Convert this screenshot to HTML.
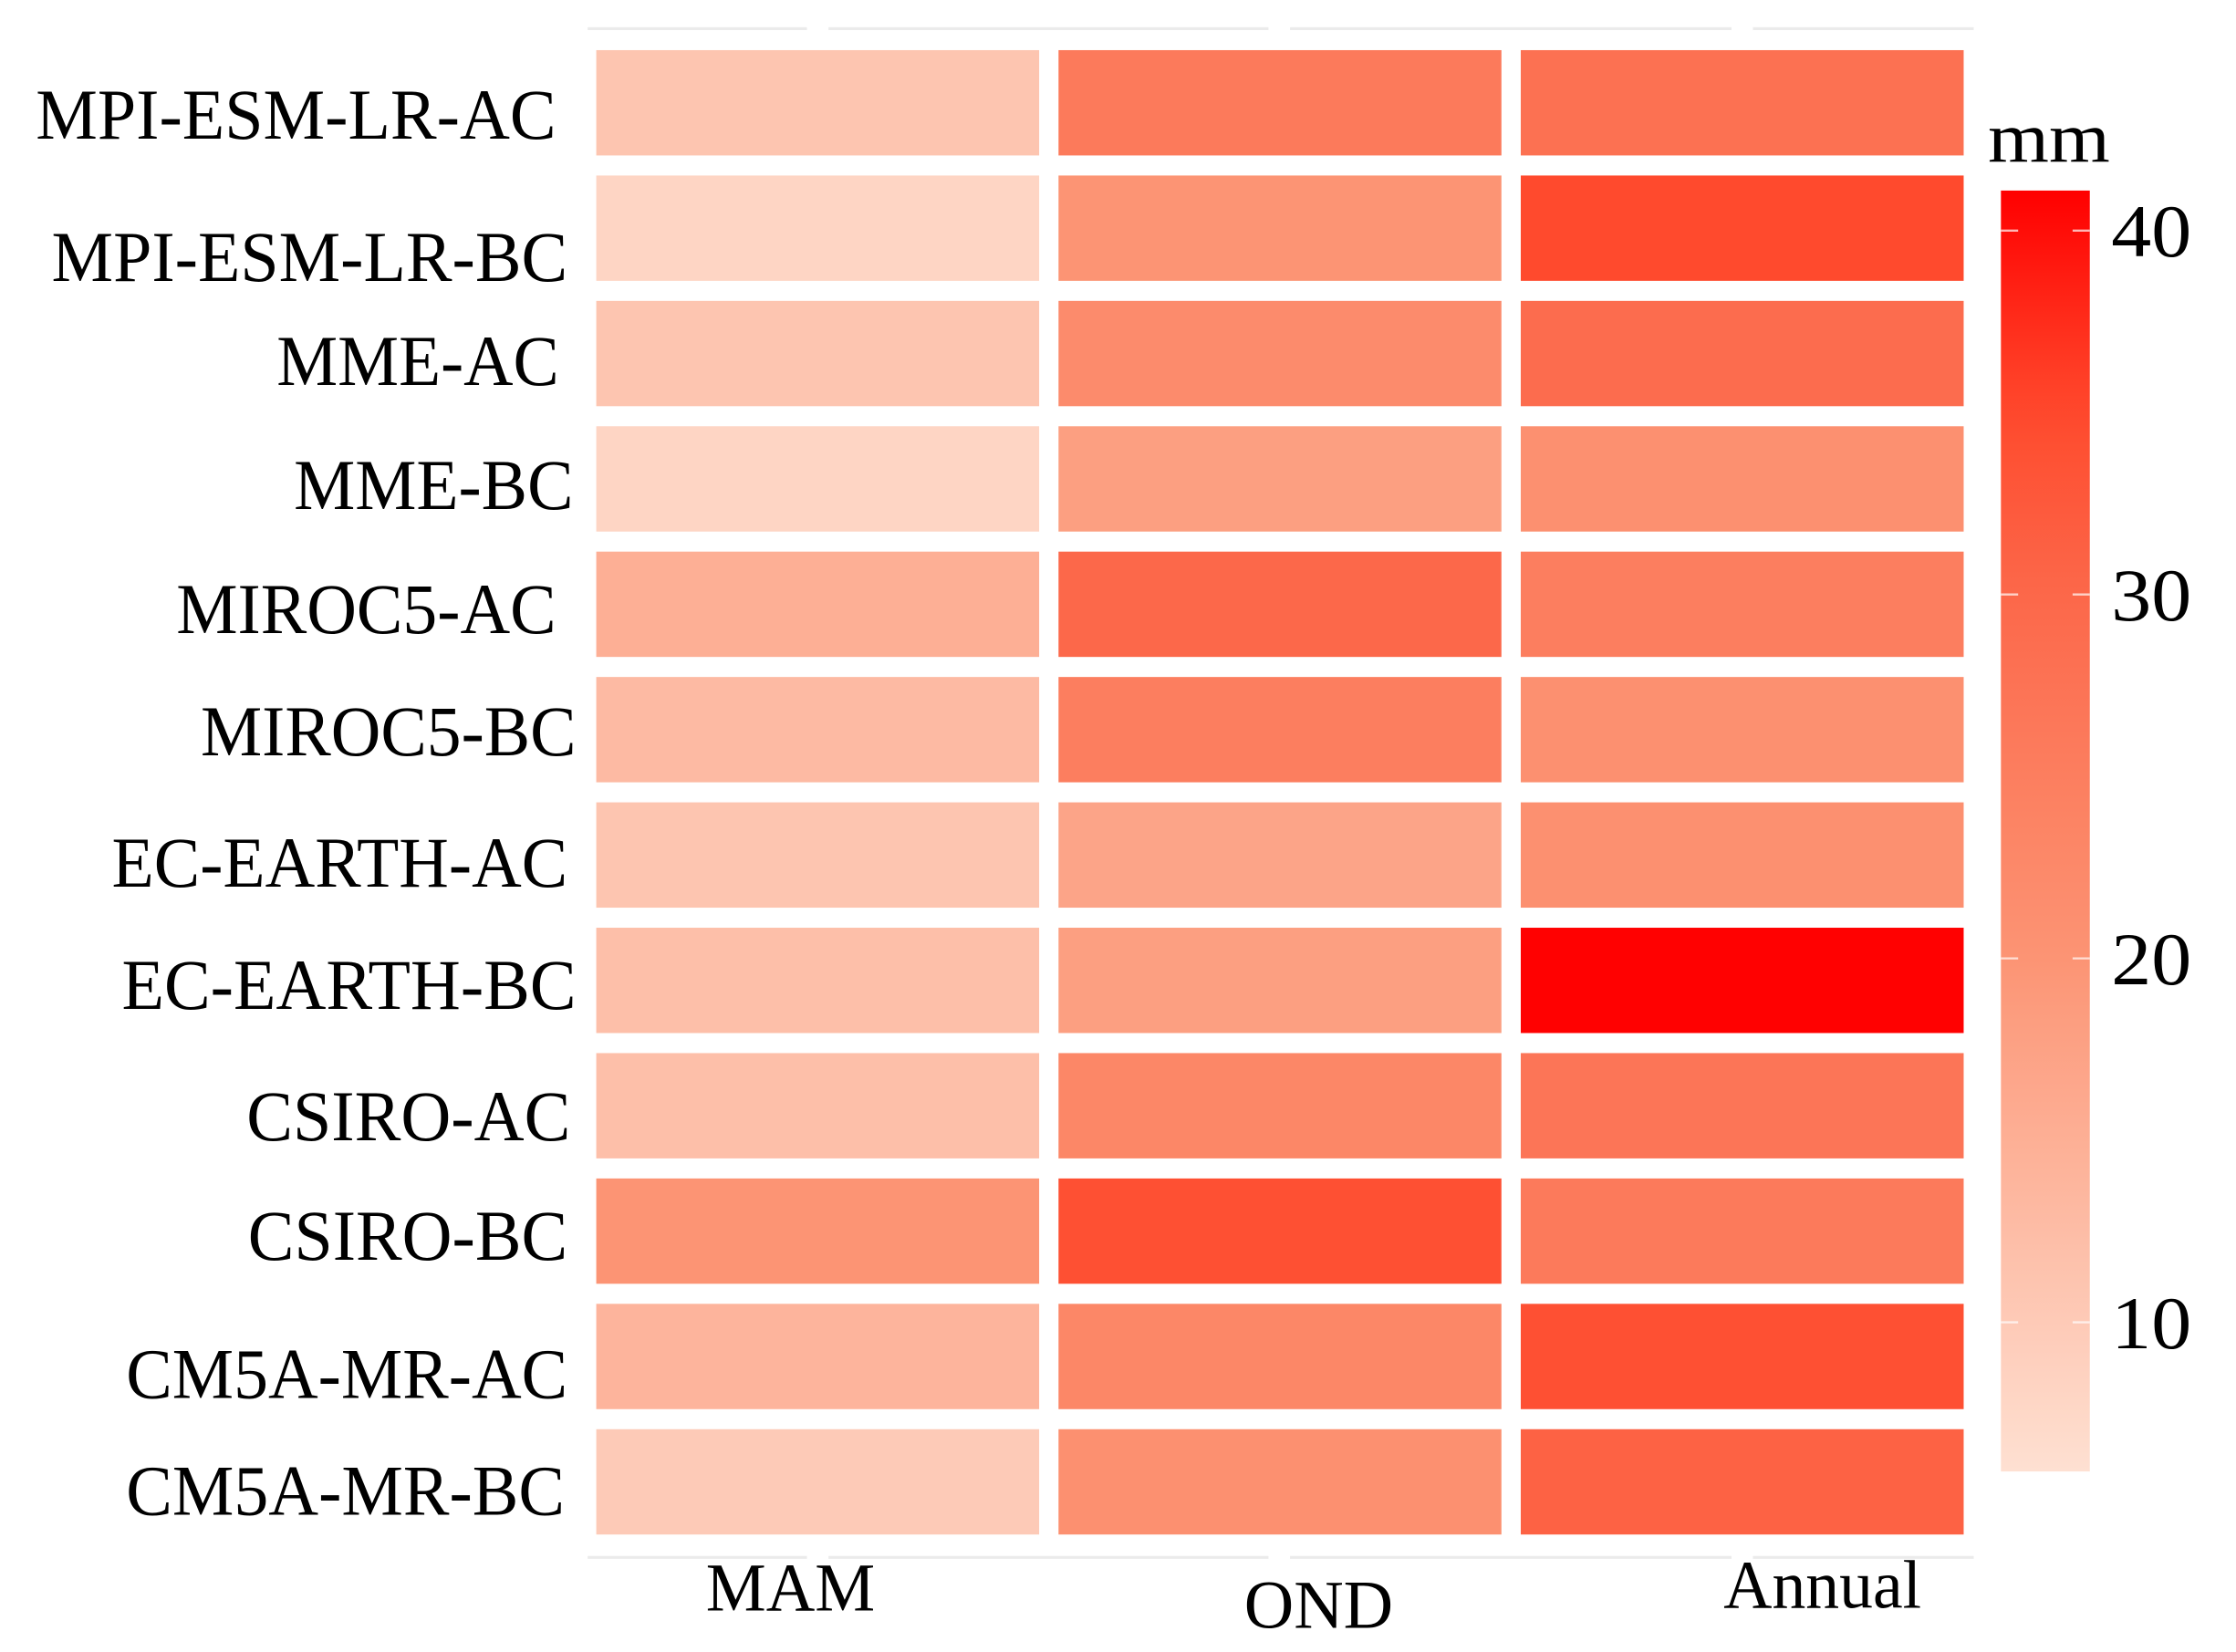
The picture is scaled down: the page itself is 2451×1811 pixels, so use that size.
<!DOCTYPE html>
<html><head><meta charset="utf-8"><style>
html,body{margin:0;padding:0;background:#fff;}
svg{display:block;}
text{font-family:"Liberation Serif",serif;fill:#000;}
</style></head><body>
<svg id="chart" width="2451" height="1811" viewBox="0 0 1560 1153" preserveAspectRatio="none" xmlns="http://www.w3.org/2000/svg">
<g id="grid"></g>
<g id="cells"></g>
<g id="ylabels"></g>
<g id="xlabels"></g>
<g id="legend"></g>
</svg>
<script>
const models = ["MPI-ESM-LR-AC","MPI-ESM-LR-BC","MME-AC","MME-BC","MIROC5-AC","MIROC5-BC","EC-EARTH-AC","EC-EARTH-BC","CSIRO-AC","CSIRO-BC","CM5A-MR-AC","CM5A-MR-BC"];
const seasons = ["MAM","OND","Annual"];
const valuesMAM = [11,8,11,8,15,13,11,12,12,20,14,10];
const valuesOND = [26,20,22,18,30,25,17,18,23,34,23,21];
const valuesAnnual = [28,35,29,21,25,21,21,41,27,26,34,31];
const legendTicks = [10,20,30,40];
const legendMin = 5.9, legendMax = 41.1;

const NS = "http://www.w3.org/2000/svg";
function mk(tag, attrs, parent){const e=document.createElementNS(NS,tag);for(const k in attrs)e.setAttribute(k,attrs[k]);parent.appendChild(e);return e;}

const stops=[[5.9,[254,224,210]],[20,[252,148,116]],[30,[252,104,74]],[35,[255,74,45]],[41.1,[255,0,0]]];
function color(v){
  v=Math.max(stops[0][0],Math.min(stops[stops.length-1][0],v));
  for(let i=0;i<stops.length-1;i++){const[a,ca]=stops[i],[b,cb]=stops[i+1];
    if(v<=b){const t=(v-a)/(b-a);return "rgb("+ca.map((c,j)=>Math.round(c+(cb[j]-c)*t)).join(",")+")";}}
  return "rgb(255,0,0)";
}
const x0=416,colPitch=322.5,cellW=309;
const y0=35,rowPitch=87.5,cellH=73.5;
function xCol(i){return x0+i*colPitch;}
function yRow(i){return y0+i*rowPitch;}

const grid=document.getElementById('grid');
[[410,563],[578,885],[900,1208],[1223,1377]].forEach(s=>{
  const l1=mk('line',{x1:s[0],x2:s[1],y1:20,y2:20,stroke:'#ebebeb','stroke-width':2},grid);
  
  
  const l2=mk('line',{x1:s[0],x2:s[1],y1:1087,y2:1087,stroke:'#ebebeb','stroke-width':2},grid);
  
  
});

const series=[valuesMAM,valuesOND,valuesAnnual];
const cells=document.getElementById('cells');
series.forEach((vals,c)=>{vals.forEach((v,r)=>{
  const rect=mk('rect',{x:xCol(c),y:yRow(r),width:cellW,height:cellH,fill:color(v)},cells);
  
  
});});

const yl=document.getElementById('ylabels');
const labRight=[388,396,390,400,388,402,396,402,398,396,396,394];
const labW=[363,360,197,195,265,262,318,317,226,223,308,306];
const labDy=[8,20,5,4,3,1,5,3,7,3,12,6];
models.forEach((m,i)=>{
  const t=mk('text',{x:labRight[i],y:yRow(i)+cellH/2+labDy[i]+17,'text-anchor':'end','font-size':50,textLength:labW[i],lengthAdjust:'spacingAndGlyphs'},yl);
  t.textContent=m;
  
  
});
const xl=document.getElementById('xlabels');
const xlY=[1124,1136,1122];
const xlW=[118,104,138];
seasons.forEach((s,i)=>{
  const t=mk('text',{x:xCol(i)+cellW/2+[-19,27,56][i],y:xlY[i],'text-anchor':'middle','font-size':48,textLength:xlW[i],lengthAdjust:'spacingAndGlyphs'},xl);
  t.textContent=s;
  
  
});

const lg=document.getElementById('legend');
const lx=1396,lw=62,ly0=133,ly1=1027;
function yLeg(v){return ly1-(v-legendMin)/(legendMax-legendMin)*(ly1-ly0);}
const defs=mk('defs',{},lg);
const grad=mk('linearGradient',{id:'lg',x1:0,y1:1,x2:0,y2:0},defs);
for(let k=0;k<=20;k++){const v=legendMin+(legendMax-legendMin)*k/20;mk('stop',{offset:(k/20),'stop-color':color(v)},grad);}
const bar=mk('rect',{x:lx,y:ly0,width:lw,height:ly1-ly0,fill:'url(#lg)'},lg);


const tt=mk('text',{x:1387,y:113,'font-size':50,textLength:85,lengthAdjust:'spacingAndGlyphs'},lg);
tt.textContent='mm';


legendTicks.forEach(v=>{
  const y=yLeg(v);
  mk('line',{x1:lx,x2:lx+12,y1:y,y2:y,stroke:'#fff','stroke-width':1.5,'stroke-opacity':0.7},lg);
  mk('line',{x1:lx+lw-12,x2:lx+lw,y1:y,y2:y,stroke:'#fff','stroke-width':1.5,'stroke-opacity':0.7},lg);
  const t=mk('text',{x:1473,y:y+18,'font-size':52,textLength:56,lengthAdjust:'spacingAndGlyphs'},lg);
  t.textContent=v;
  
  
});
</script>
</body></html>
